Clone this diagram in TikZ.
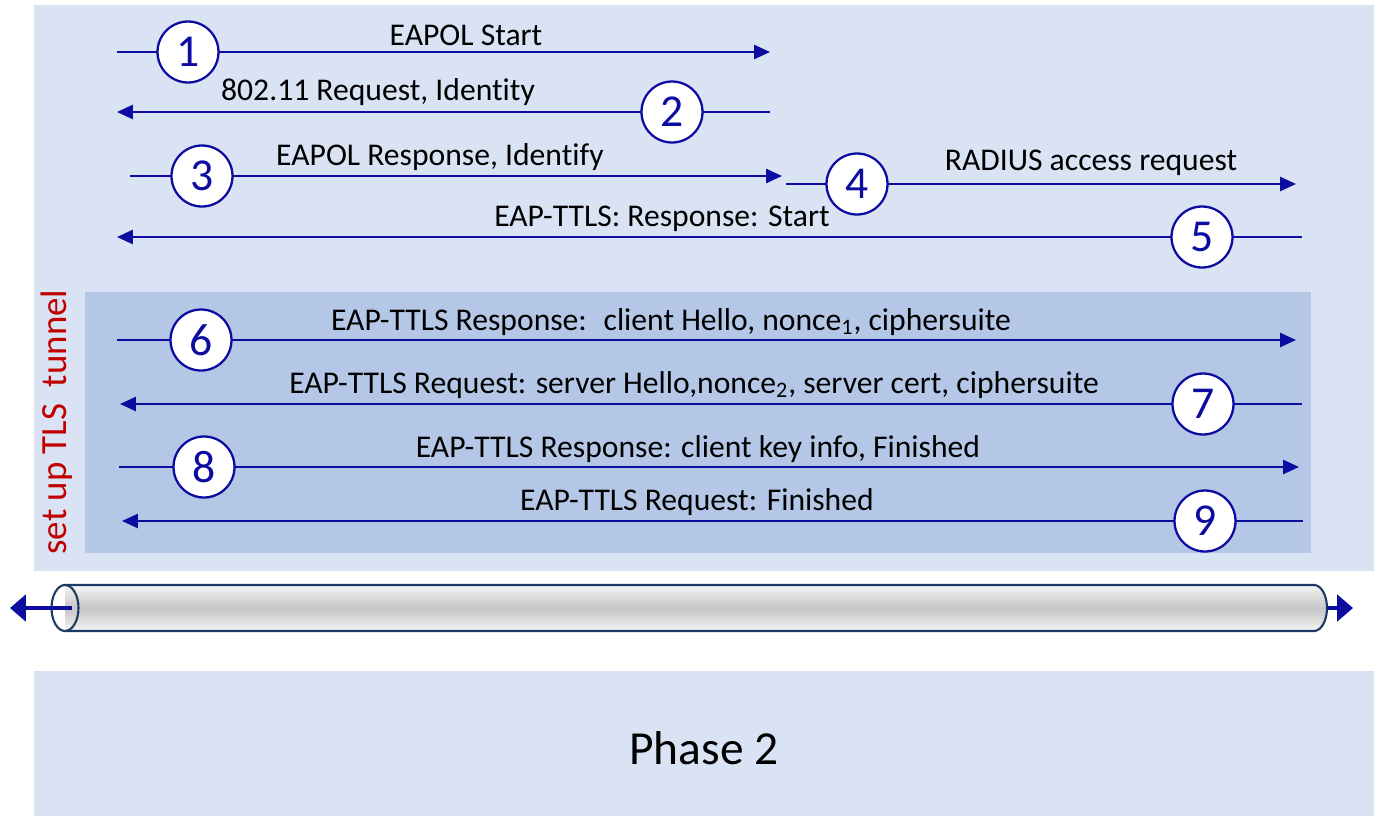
\documentclass[tikz,border=0pt]{standalone}
\usepackage{fontspec}
\setmainfont{Carlito}[Ligatures={NoCommon}]
\usetikzlibrary{arrows.meta,positioning}
\definecolor{panelbg}{HTML}{DAE3F3}
\definecolor{tlsbg}{HTML}{B4C7E7}
\definecolor{msgblue}{HTML}{0C0CA0}
\definecolor{tunnelred}{HTML}{C00000}
\definecolor{tubeline}{HTML}{1F3864}

\begin{document}
\begin{tikzpicture}[
  x=0.02cm, y=-0.02cm,
  msg/.style={draw=msgblue, line width=1.2pt, -{Triangle[length=9pt,width=8pt]}},
  tubearr/.style={draw=msgblue, line width=2pt, -{Triangle[length=9pt,width=15pt]}},
  stepnum/.style={circle, draw=msgblue, line width=1.3pt, fill=white, minimum size=1.22cm,
    inner sep=0pt, text=msgblue, font=\fontsize{26}{26}\selectfont},
  lbl/.style={inner sep=1pt, font=\fontsize{18}{20}\selectfont}
]
  \useasboundingbox (0,0) rectangle (1374,816);
  % panels
  \fill[panelbg] (34,5) rectangle (1374,571);
  \fill[tlsbg] (85,292) rectangle (1311,553);
  \fill[panelbg] (34,671) rectangle (1374,816);
  \node[rotate=90, text=tunnelred, font=\fontsize{21}{21}\selectfont] (tlslbl) at (57,422) {set up TLS~~tunnel};
  %
  % messages: number / start x / end x / y / circle x
  \foreach \n/\xs/\xe/\y/\xc in {1/117/770/52/188, 2/770/117/112/672, 3/130/782/176/202,
      4/786/1296/184/857, 5/1302/117/237/1202, 6/117/1296/340/201,
      7/1302/120/404/1203, 8/119/1299/467/204, 9/1303/122/521/1205} {
    \coordinate (s\n) at (\xs,\y);
    \coordinate (e\n) at (\xe,\y);
    \draw[msg] (s\n) -- (e\n);
    \node[stepnum] (c\n) at (\xc,\y) {\n};
  }
  \node[lbl] (t1) at (466,35) {EAPOL Start};
  \node[lbl] (t2) at (378,92) {802.11 Request, Identity};
  \node[lbl] (t3) at (440,157) {EAPOL Response, Identify};
  \node[lbl] (t4) at (1091,163) {RADIUS access request};
  \node[lbl] (t5) at (662,219) {EAP-TTLS: Response: Start};
  \node[lbl] (t6) at (671,322) {EAP-TTLS Response:~ client Hello, nonce\textsubscript{1}, ciphersuite};
  \node[lbl] (t7) at (694,385) {EAP-TTLS Request: server Hello,nonce\textsubscript{2}, server cert, ciphersuite};
  \node[lbl] (t8) at (698,449) {EAP-TTLS Response: client key info, Finished};
  \node[lbl] (t9) at (697,502) {EAP-TTLS Request: Finished};
  %
  % tunnel
  \shade[top color=gray!8, bottom color=gray!8, middle color=gray!45]
    (65,585) -- (1314,585) arc[start angle=90, end angle=-90, x radius=0.26cm, y radius=0.46cm]
    -- (65,631) -- cycle;
  \draw[tubeline, line width=1.2pt] (65,585) -- (1314,585)
    arc[start angle=90, end angle=-90, x radius=0.26cm, y radius=0.46cm] -- (65,631);
  \draw[tubeline, line width=1.2pt] (65,608) ellipse[x radius=0.27cm, y radius=0.46cm];
  \coordinate (tubeL) at (72,608);
  \coordinate (tipL) at (10,608);
  \coordinate (tubeR) at (1327,608);
  \coordinate (tipR) at (1353,608);
  \draw[tubearr] (tubeL) -- (tipL);
  \draw[tubearr] (tubeR) -- (tipR);
  %
  \node[font=\fontsize{27}{27}\selectfont] (phase2) at (704,748) {Phase 2};
\end{tikzpicture}
\end{document}
